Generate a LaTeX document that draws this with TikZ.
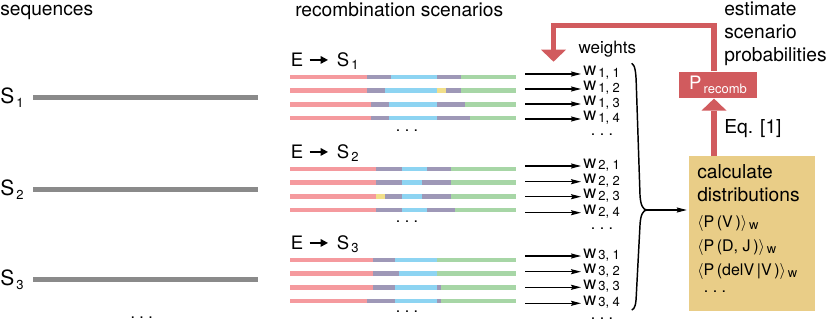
\documentclass[tikz,border=0pt]{standalone}
\usepackage{fontspec}
\setmainfont{TeX Gyre Heros}
\usetikzlibrary{arrows.meta,positioning,calc}

\definecolor{segpink}{HTML}{F59A9E}
\definecolor{segpurple}{HTML}{9E98B7}
\definecolor{segblue}{HTML}{8DD4F2}
\definecolor{seggreen}{HTML}{A7D6A6}
\definecolor{segyellow}{HTML}{F1DF8A}
\definecolor{seqgray}{HTML}{8A8A8A}
\definecolor{recred}{HTML}{D15B5E}
\definecolor{calctan}{HTML}{E9CD87}

\newcommand{\idx}[2][3pt]{\kern1.5pt\raisebox{-#1}{\fontsize{9.75}{10}\selectfont #2}}

\begin{document}
\begin{tikzpicture}[
    x=0.75pt,y=-0.75pt,
    lbl/.style={anchor=base west,inner sep=0pt,align=left,
                font=\fontsize{14.4}{17.5}\selectfont},
    slab/.style={anchor=base west,inner sep=0pt,font=\fontsize{15.75}{18}\selectfont},
    elab/.style={anchor=base west,inner sep=0pt,font=\fontsize{13.9}{16}\selectfont},
    wlab/.style={anchor=base west,inner sep=0pt,font=\fontsize{13.5}{16}\selectfont},
    flab/.style={anchor=base west,inner sep=0pt,font=\fontsize{12}{14}\selectfont},
    dlab/.style={anchor=base,inner sep=0pt,font=\fontsize{12}{14}\selectfont},
    seqline/.style={line width=3.4pt,seqgray},
    segbar/.style={line width=3.4pt},
    warr/.style={-{Stealth[length=7.5pt,width=3.8pt,inset=1pt]},line width=0.8pt,
                 shorten >=1.5pt},
    eqarr/.style={-{Triangle[length=5.5pt,width=5.5pt]},line width=1.4pt,
                  shorten <=4.5pt,shorten >=6.5pt},
    redarr/.style={-{Triangle[length=9pt,width=18.75pt,line width=0pt]},
                   line width=4.3pt,recred},
    recbox/.style={rectangle,fill=recred,text=white,inner sep=0pt,
                   minimum width=58pt,minimum height=20pt,
                   font=\fontsize{13.9}{16}\selectfont},
    calcbox/.style={rectangle,fill=calctan,inner sep=0pt,
                    minimum width=94.3pt,minimum height=116pt},
    bracepath/.style={line width=1.1pt}
  ]
    \useasboundingbox (0,0) rectangle (830,324);

    % column titles
    \node[lbl] (seqtitle) at (0,16) {sequences};
    \node[lbl] (rectitle) at (295,16.5) {recombination scenarios};
    \node[lbl] (esttitle) at (724,61.7) {estimate\\scenario\\probabilities};

    % sequences
    \foreach \k/\y in {1/97.7,2/189.3,3/279.3}{
      \node[slab] (s\k) at (0,{\y+6}) {S\idx{\k}};
      \draw[seqline] (33,\y) -- (258,\y);
    }
    \node[dlab] (seqdots) at (141.7,318) {.\ .\ .};

    % scenarios
    \foreach \k/\y in {1/66.7,2/158.7,3/249.7}{
      \node[elab] (e\k) at (290.7,\y) {E};
      \node[elab] (t\k) at (336.7,\y) {S\idx[2pt]{\k}};
      \draw[eqarr] (e\k.east) -- (e\k.east -| t\k.west);
    }
    \foreach \y/\a/\bl/\br/\g in {77/367.3/390.7/436.7/461, 90.7/367.3/385/436.7/461,
        104.3/371/389/436.7/465, 118/371/389/436.7/470,
        169/376/402/426.7/451, 182.7/376/402/422.3/451,
        196.3/376/402/422.3/451, 210/376/402/426.7/455.3,
        260/373.3/395.3/436.7/436.7, 273.7/373.3/399.3/436.7/436.7,
        287.3/373.3/395.3/436.7/441, 301/367.3/395.3/436.7/441}{
      \draw[segbar,segpink] (290,\y) -- (\a,\y);
      \draw[segbar,segpurple] (\a,\y) -- (\g,\y);
      \draw[segbar,segblue] (\bl,\y) -- (\br,\y);
      \draw[segbar,seggreen] (\g,\y) -- (516,\y);
    }
    \draw[segbar,segyellow] (436.7,90.7) -- (446,90.7);
    \draw[segbar,segyellow] (376,196.3) -- (385,196.3);
    \node[dlab] (bardots1) at (407,131.5) {.\ .\ .};
    \node[dlab] (bardots2) at (407,222.7) {.\ .\ .};
    \node[dlab] (bardots3) at (407,312.7) {.\ .\ .};

    % weights
    \node[lbl,font=\fontsize{12.75}{15}\selectfont] (wtitle) at (578.3,54) {weights};
    \foreach \g/\r/\y in {1/1/74,1/2/89,1/3/104,1/4/119,
        2/1/166,2/2/181.7,2/3/196.7,2/4/212.7,
        3/1/256,3/2/271.7,3/3/287.3,3/4/303.3}{
      \coordinate (a\g\r) at (525,\y);
      \node[wlab] (w\g\r) at (583,{\y+2}) {w\idx[1pt]{\g, \r}};
      \draw[warr] (a\g\r) -- (a\g\r -| w\g\r.west);
    }
    \node[dlab] (wdots1) at (602,136) {.\ .\ .};
    \node[dlab] (wdots2) at (602,229.3) {.\ .\ .};
    \node[dlab] (wdots3) at (602,319.3) {.\ .\ .};

    % brace
    \coordinate (btip) at (647,210);
    \draw[bracepath] (631.7,63.3) .. controls (635,65) and (636,72) .. (636.3,85)
      -- (640,195) .. controls (640.5,205) and (643,210) .. (btip)
      .. controls (643,210) and (640.5,215) .. (640,225)
      -- (636.3,295) .. controls (636,304) and (635,309) .. (631.7,310);

    % distributions
    \node[calcbox] (calc) at (751.9,233.4) {};
    \draw[warr] (btip) -- (btip -| calc.west);
    \node[lbl] (calctxt) at (697,201.7) {calculate\\distributions};
    \node[flab] (fv) at (697,227.3) {$\langle$P\,(V\,)$\rangle$\idx[2pt]{w}};
    \node[flab] (fdj) at (697,251) {$\langle$P\,(D, J\,)$\rangle$\idx[2pt]{w}};
    \node[flab] (fdel) at (697,275) {$\langle$P\,(delV\,|V\,)$\rangle$\idx[2pt]{w}};
    \node[dlab] (fdots) at (715,292.7) {.\ .\ .};

    % recombination probability
    \node[recbox] (prec) at (718,85) {P\idx[2.5pt]{recomb}};
    \coordinate (rx) at (714,0);
    \coordinate (rtop) at (0,25.5);
    \coordinate (wback) at (553.5,61.7);
    \draw[redarr] (rx |- calc.north) -- (rx |- prec.south);
    \draw[redarr] (rx |- prec.north) -- (rx |- rtop) -| (wback);
    \node[lbl] (eqlab) at (724,133) {Eq. [1]};
  \end{tikzpicture}
\end{document}
